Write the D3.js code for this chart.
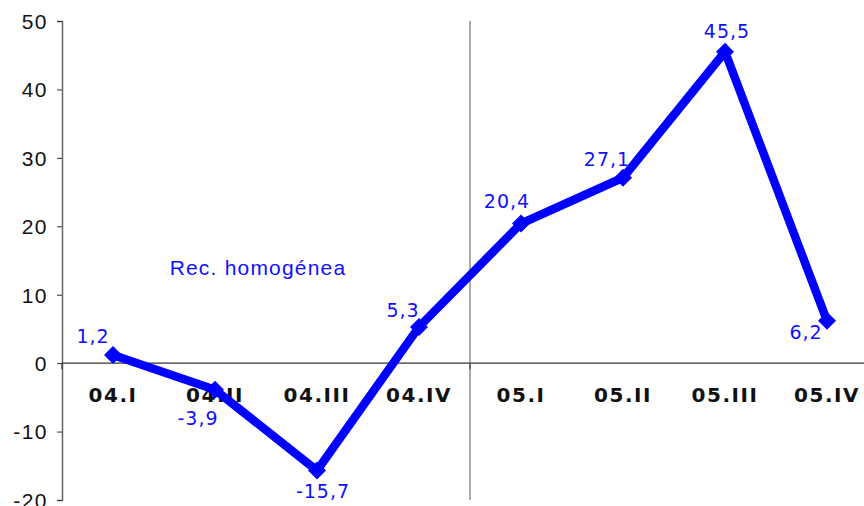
<!DOCTYPE html>
<html><head><meta charset="utf-8">
<script src="https://cdn.jsdelivr.net/npm/d3@7"></script>
<style>body{margin:0;background:#fff}svg{display:block}</style>
</head><body>
<svg id="c" width="864" height="506"></svg>
<script>
const categories = ["04.I","04.II","04.III","04.IV","05.I","05.II","05.III","05.IV"];
const values = [1.2,-3.9,-15.7,5.3,20.4,27.1,45.5,6.2];
const valueLabels = ["1,2","-3,9","-15,7","5,3","20,4","27,1","45,5","6,2"];
const yTicks = [-20,-10,0,10,20,30,40,50];
const seriesName = "Rec. homogénea";
// label offsets relative to the point (dx, dy to baseline)
const labelOffsets = [[-20,-12],[-17,35],[6,27],[-16,-10],[-14,-16],[-16,-12],[2,-14],[-21,18]];

const svg = d3.select("#c");
const x = d3.scaleBand().domain(categories).range([62, 878]);
const y = d3.scaleLinear().domain([-20, 50]).range([500, 21]);
const cx = d => x(d) + x.bandwidth()/2;

// y axis
const yAxis = d3.axisLeft(y).tickValues(yTicks).tickSize(5).tickPadding(9).tickFormat(d => String(d));
const gy = svg.append("g").attr("transform","translate(62,0)").call(yAxis);
gy.select(".domain").attr("stroke","#666").attr("stroke-width",1.5);
gy.selectAll(".tick line").attr("stroke","#333");
gy.selectAll(".tick text").attr("font-family","Liberation Sans, Arial, sans-serif").attr("font-size",21)
  .attr("letter-spacing",1.5).attr("fill","#111").attr("dy","0.35em");

// zero line
svg.append("line").attr("x1",62).attr("x2",878).attr("y1",y(0)).attr("y2",y(0)).attr("stroke","#333").attr("stroke-width",1.2);
[0,4].forEach(i=>{
  const xx = x(categories[i]);
  svg.append("line").attr("x1",xx).attr("x2",xx).attr("y1",y(0)).attr("y2",y(0)+6).attr("stroke","#333").attr("stroke-width",1.2);
});
// vertical separator between years
svg.append("line").attr("x1",x(categories[4])).attr("x2",x(categories[4])).attr("y1",y(50)).attr("y2",y(-20)).attr("stroke","#555").attr("stroke-width",1);

// category labels
svg.append("g").selectAll("text").data(categories).join("text")
  .attr("x", d=>cx(d)).attr("y", y(0)+39).attr("text-anchor","middle")
  .attr("font-family","DejaVu Sans, Verdana, sans-serif").attr("font-weight","bold")
  .attr("font-size",20).attr("letter-spacing",1.5).attr("fill","#111").text(d=>d);

// line
const line = d3.line().x((d,i)=>cx(categories[i])).y(d=>y(d));
svg.append("path").datum(values).attr("d",line).attr("fill","none")
  .attr("stroke","#0000ff").attr("stroke-width",8.5).attr("stroke-linejoin","miter");

// markers
const r = 9;
svg.append("g").selectAll("path").data(values).join("path")
  .attr("d",(d,i)=>{const px=cx(categories[i]),py=y(d);return `M${px},${py-r}L${px+r},${py}L${px},${py+r}L${px-r},${py}Z`;})
  .attr("fill","#0000ff");

// value labels
svg.append("g").selectAll("text").data(values).join("text")
  .attr("x",(d,i)=>cx(categories[i])+labelOffsets[i][0])
  .attr("y",(d,i)=>y(d)+labelOffsets[i][1])
  .attr("text-anchor","middle").attr("font-family","DejaVu Sans, Verdana, sans-serif")
  .attr("font-size",19).attr("letter-spacing",1).attr("fill","#1010ff").text((d,i)=>valueLabels[i]);

// series name
svg.append("text").attr("x",258).attr("y",275).attr("text-anchor","middle")
  .attr("font-family","Liberation Sans, Arial, sans-serif").attr("font-size",21).attr("letter-spacing",1.2)
  .attr("fill","#1010ff").text(seriesName);
</script>
</body></html>
